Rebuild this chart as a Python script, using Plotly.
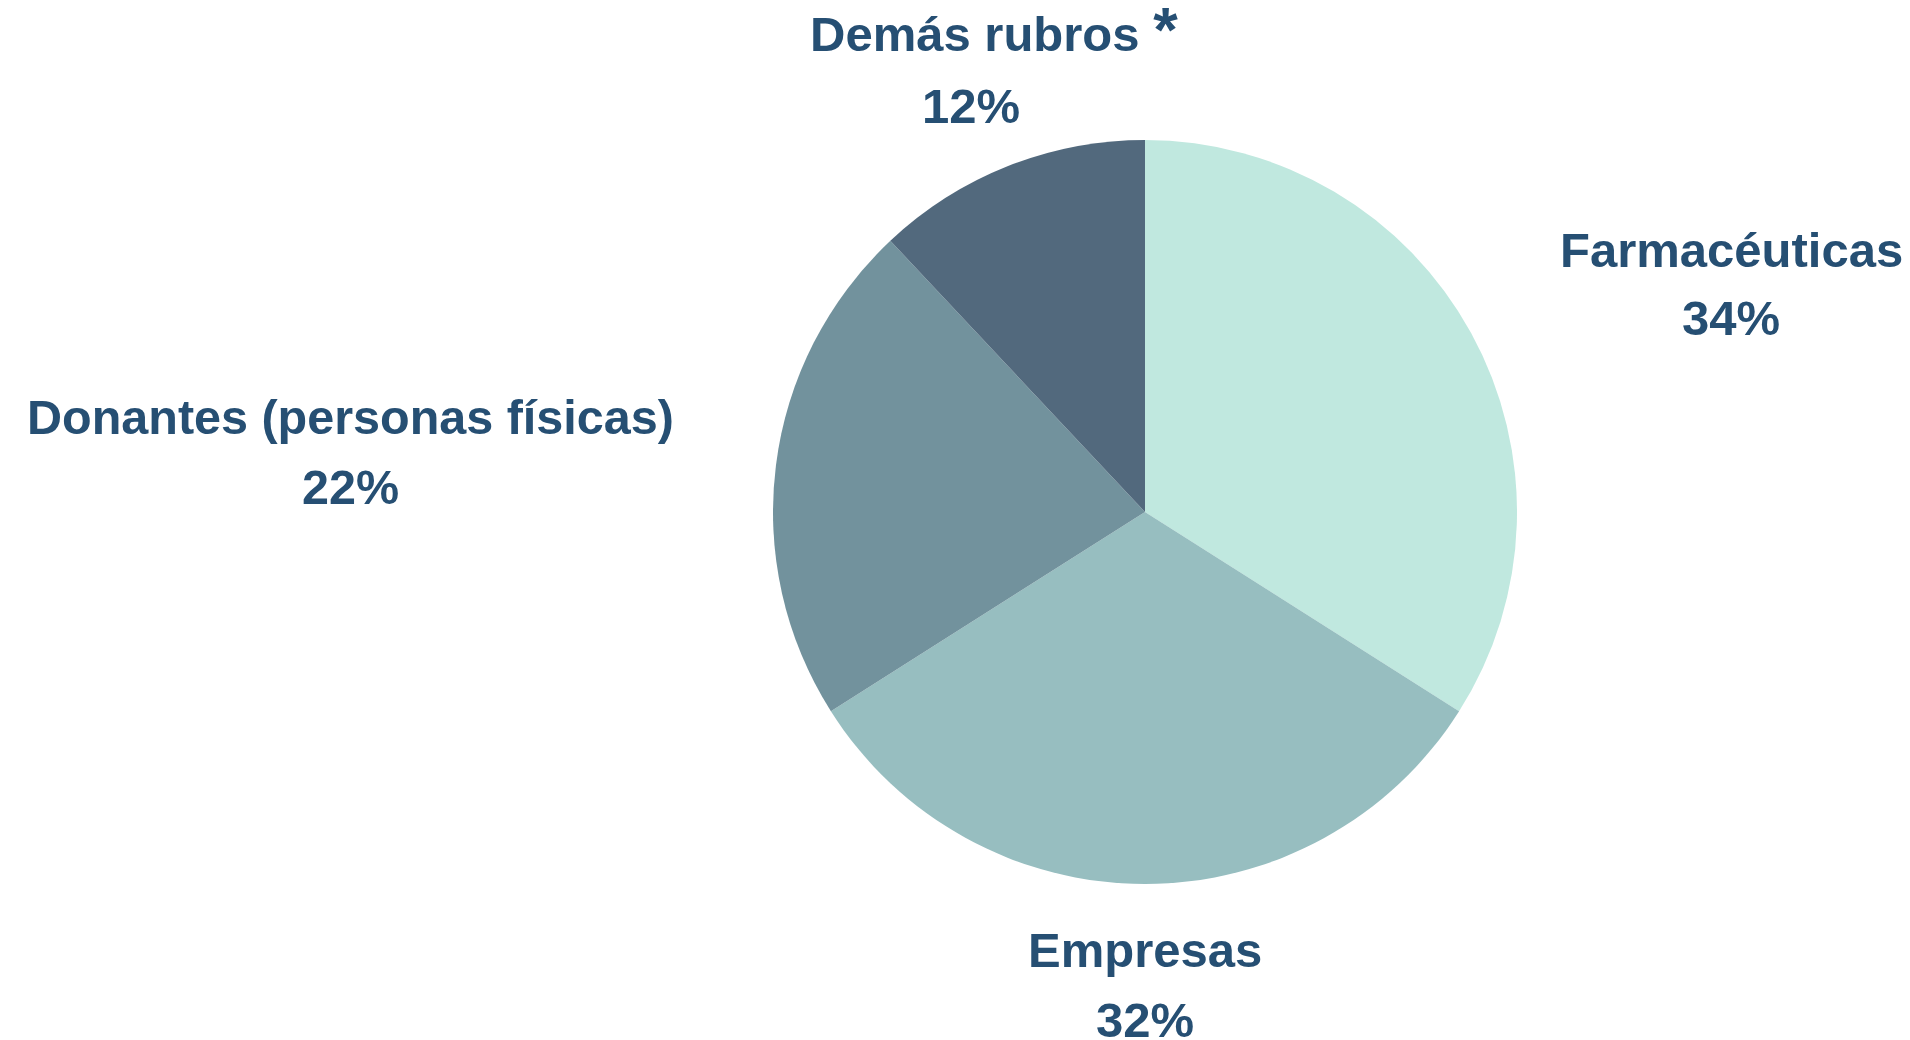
import plotly.graph_objects as go

categories = ["Farmacéuticas", "Empresas", "Donantes (personas físicas)", "Demás rubros *"]
values = [34, 32, 22, 12]
colors = ["#c0e8df", "#97bec0", "#72929d", "#52697d"]

# label placement: (name x, name anchor, name y, pct x, pct y) in pixels
label_pos = [(1731, "center", 250, 1731, 318),
             (1145, "center", 950, 1145, 1020),
             (350, "center", 417, 350, 487),
             (808, "left", 29, 971, 106)]
label_sizes = [49, 49, 48.5, 49]

W, H = 1910, 1040
cx, cy, r = 1145, 512, 372

fig = go.Figure(go.Pie(
    labels=categories, values=values, sort=False, direction="clockwise", rotation=0,
    marker=dict(colors=colors, line=dict(width=0)),
    textinfo="none", hoverinfo="label+percent",
    domain=dict(x=[(cx - r) / W, (cx + r) / W], y=[1 - (cy + r) / H, 1 - (cy - r) / H]),
    showlegend=False,
))

total = sum(values)
ann = []
for cat, v, (nx, nanc, ny, px, py), sz in zip(categories, values, label_pos, label_sizes):
    name = cat.replace("*", "<span style='font-size:63px'>*</span>")
    for txt, x, anc, y in ((name, nx, nanc, ny), (f"{round(100 * v / total)}%", px, "center", py)):
        ann.append(dict(text=f"<b>{txt}</b>", x=x / W, y=1 - y / H, xref="paper", yref="paper",
                        xanchor=anc, yanchor="middle", showarrow=False,
                        font=dict(family="Liberation Sans, Arial", size=sz, color="#264f73")))

fig.update_layout(width=W, height=H, margin=dict(l=0, r=0, t=0, b=0),
                  paper_bgcolor="white", plot_bgcolor="white", annotations=ann)
fig.write_html("out.html")
